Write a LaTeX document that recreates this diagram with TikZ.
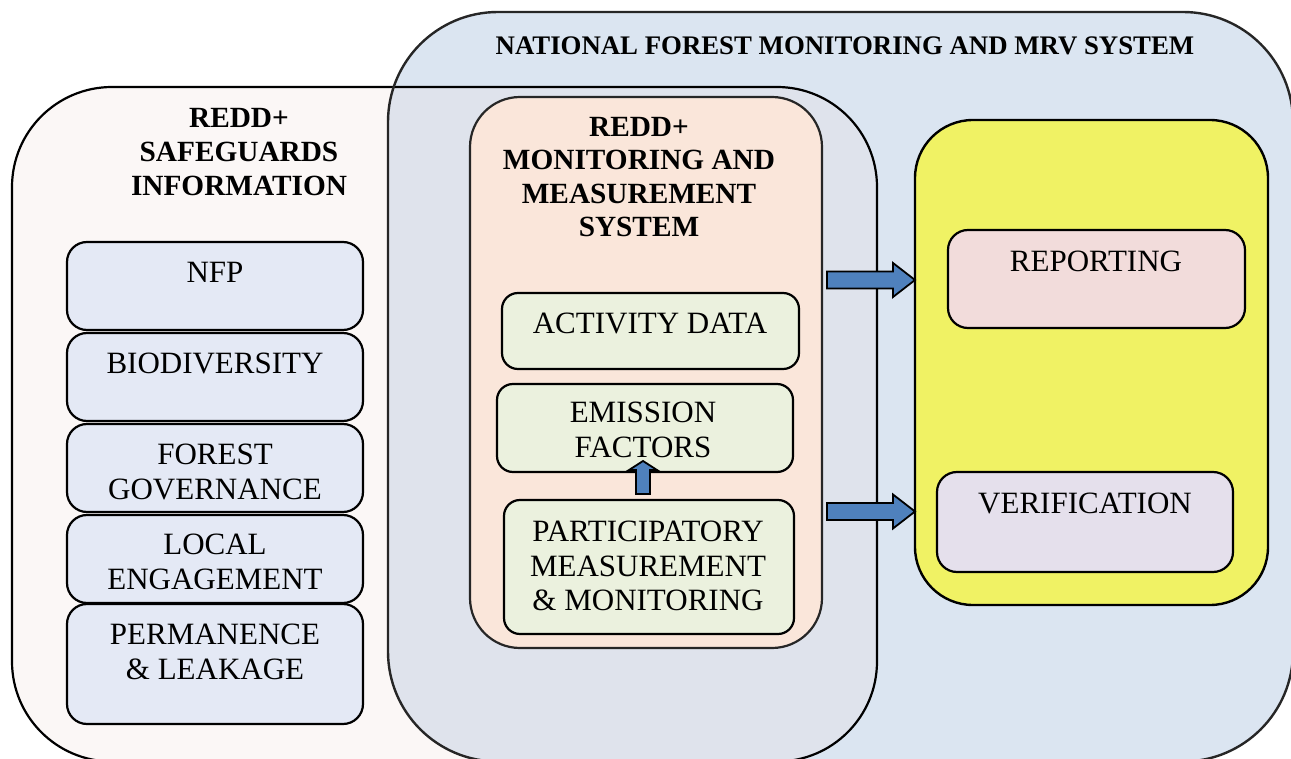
\documentclass[tikz,border=0pt]{standalone}
\usepackage{fontspec}
\setmainfont{Liberation Serif}
\definecolor{mrvblue}{RGB}{219,229,241}
\definecolor{sgpink}{RGB}{251,247,246}
\definecolor{overlapgray}{RGB}{223,227,236}
\definecolor{mmspeach}{RGB}{250,230,218}
\definecolor{sgitem}{RGB}{228,233,245}
\definecolor{mmsgreen}{RGB}{235,241,222}
\definecolor{reportyellow}{RGB}{240,242,100}
\definecolor{reportpink}{RGB}{242,220,219}
\definecolor{verilav}{RGB}{229,224,236}
\definecolor{arrowblue}{RGB}{79,129,189}
\begin{document}
\begin{tikzpicture}[x=1pt,y=-1pt,
  bodytext/.style={font=\fontsize{31}{34.5}\selectfont, align=center, inner sep=0pt},
  headtext/.style={font=\fontsize{29.3}{34}\selectfont\bfseries, align=center, inner sep=0pt},
  itembox/.style={draw=black, line width=2.2pt, rounded corners=20pt, inner sep=0pt},
  sgbox/.style={itembox, fill=sgitem, minimum width=296pt},
  mmsbox/.style={itembox, fill=mmsgreen, rounded corners=16pt},
  arrowfill/.style={draw=black, line width=1.8pt, fill=arrowblue, line join=miter},
  rarrow/.pic={\path[arrowfill] (0,-8.5) -- (66,-8.5) -- (66,-17) -- (88,0) -- (66,17) -- (66,8.5) -- (0,8.5) -- cycle;},
  uarrow/.pic={\path[arrowfill] (-7,0) -- (-7,-24) -- (-14,-24) -- (0,-33) -- (14,-24) -- (7,-24) -- (7,0) -- cycle;}
]
\useasboundingbox (0,0) rectangle (1291,759);
\fill[white] (0,0) rectangle (1291,759);

% National forest monitoring and MRV system (large blue panel)
\fill[mrvblue, rounded corners=110pt] (388,12) rectangle (1293,761.5);
% Safeguards information panel
\fill[sgpink, rounded corners=100pt] (12,87) rectangle (877,761.5);
% shared region of both panels
\begin{scope}
  \clip[rounded corners=110pt] (388,12) rectangle (1293,761.5);
  \fill[overlapgray, rounded corners=100pt] (12,87) rectangle (877,761.5);
\end{scope}
\draw[black, line width=2.2pt, rounded corners=100pt] (12,87) rectangle (877,761.5);
\draw[black!85, line width=2.4pt, rounded corners=110pt] (388,12) rectangle (1293,761.5);

\node[headtext, font=\fontsize{26.8}{30}\selectfont\bfseries] (title) at (845,46) {NATIONAL FOREST MONITORING AND MRV SYSTEM};
\node[headtext] (sgtitle) at (239,152) {REDD+\\SAFEGUARDS\\INFORMATION};

% safeguard items
\node[sgbox, minimum height=88pt] (nfp) at (215,286) {};
\node[bodytext] at (215,272) {NFP};
\node[sgbox, minimum height=88pt] (bio) at (215,377) {};
\node[bodytext] at (215,363) {BIODIVERSITY};
\node[sgbox, minimum height=88pt] (gov) at (215,468) {};
\node[bodytext] at (215,472) {FOREST\\GOVERNANCE};
\node[sgbox, minimum height=88pt] (loc) at (215,559) {};
\node[bodytext] at (215,562) {LOCAL\\ENGAGEMENT};
\node[sgbox, minimum height=120pt] (perm) at (215,664) {};
\node[bodytext] at (215,652) {PERMANENCE\\\& LEAKAGE};

% monitoring and measurement system
\node[draw=black!85, line width=2.2pt, fill=mmspeach, rounded corners=50pt,
      minimum width=352pt, minimum height=551pt, inner sep=0pt] (mms) at (646,372.5) {};
\node[headtext, font=\fontsize{29.3}{33.4}\selectfont\bfseries] at (639,177) {REDD+\\MONITORING AND\\MEASUREMENT\\SYSTEM};

\node[mmsbox, minimum width=297pt, minimum height=76pt] (act) at (650.5,331) {};
\node[bodytext] at (650,323) {ACTIVITY DATA};
\node[mmsbox, minimum width=296pt, minimum height=88pt] (emi) at (645,428) {};
\node[bodytext] at (643,430) {EMISSION\\FACTORS};
\node[mmsbox, minimum width=290pt, minimum height=134pt] (part) at (649,567) {};
\node[bodytext] at (648,566) {PARTICIPATORY\\MEASUREMENT\\\& MONITORING};

\pic at (643,494) {uarrow};

% reporting and verification
\node[draw=black, line width=2.4pt, fill=reportyellow, rounded corners=58pt,
      minimum width=353pt, minimum height=485pt, inner sep=0pt] (rv) at (1091.5,362.5) {};
\node[itembox, fill=reportpink, minimum width=297pt, minimum height=98pt] (rep) at (1096.5,279) {};
\node[bodytext] at (1096,261) {REPORTING};
\node[itembox, fill=verilav, minimum width=296pt, minimum height=100pt] (ver) at (1085,522) {};
\node[bodytext] at (1085,503) {VERIFICATION};

\pic at (827,280) {rarrow};
\pic at (827,511.5) {rarrow};
\end{tikzpicture}
\end{document}
